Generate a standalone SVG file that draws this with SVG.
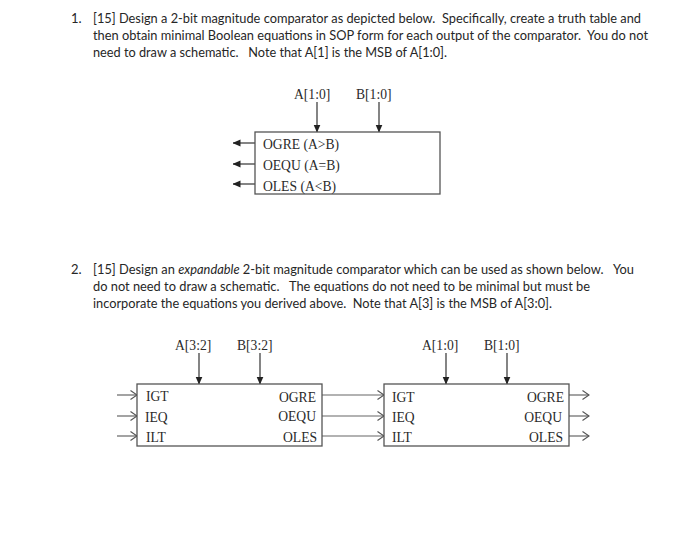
<svg xmlns="http://www.w3.org/2000/svg" width="700" height="545" viewBox="0 0 700 545">
<style>
.q{font-family:Lato,"Open Sans","Liberation Sans",sans-serif;font-size:13px;fill:#262626}
.t{font-family:"Liberation Serif","Times New Roman",serif;font-size:13.6px;fill:#2a2a2a}
.e{text-anchor:end}
.box{fill:#fff;stroke:#555;stroke-width:1.3}
.w{fill:none;stroke:#333;stroke-width:1.2}
.g{fill:none;stroke:#666;stroke-width:1.2}
</style>
<defs>
<marker id="solid" viewBox="0 0 8 8" refX="7.5" refY="4" markerWidth="8" markerHeight="8" markerUnits="userSpaceOnUse" orient="auto"><path d="M0 0.5L8 4L0 7.5z" fill="#222"/></marker>
<marker id="open" viewBox="0 0 8 10" refX="7.5" refY="5" markerWidth="8" markerHeight="10" markerUnits="userSpaceOnUse" orient="auto"><path d="M1 0.5L7.5 5L1 9.5" fill="none" stroke="#555" stroke-width="1.1"/></marker>
</defs>
<g id="question-1">
<text class="q" x="71" y="23">1.</text>
<text class="q" x="93" y="23" textLength="548" lengthAdjust="spacingAndGlyphs" xml:space="preserve">[15] Design a 2-bit magnitude comparator as depicted below.  Specifically, create a truth table and</text>
<text class="q" x="93" y="40" textLength="555" lengthAdjust="spacingAndGlyphs" xml:space="preserve">then obtain minimal Boolean equations in SOP form for each output of the comparator.  You do not</text>
<text class="q" x="93" y="57" textLength="354" lengthAdjust="spacingAndGlyphs" xml:space="preserve">need to draw a schematic.   Note that A[1] is the MSB of A[1:0].</text>
</g>
<g id="question-2">
<text class="q" x="71" y="274">2.</text>
<text class="q" x="93" y="274" textLength="541" lengthAdjust="spacingAndGlyphs" xml:space="preserve">[15] Design an <tspan font-style="italic">expandable</tspan> 2-bit magnitude comparator which can be used as shown below.   You</text>
<text class="q" x="93" y="291" textLength="497" lengthAdjust="spacingAndGlyphs" xml:space="preserve">do not need to draw a schematic.   The equations do not need to be minimal but must be</text>
<text class="q" x="93" y="308" textLength="459" lengthAdjust="spacingAndGlyphs" xml:space="preserve">incorporate the equations you derived above.  Note that A[3] is the MSB of A[3:0].</text>
</g>
<g id="connectors">
<path class="w" marker-end="url(#solid)" d="M317 102V132"/>
<path class="w" marker-end="url(#solid)" d="M379 102V132"/>
<path class="w" marker-end="url(#solid)" d="M255 143H233"/>
<path class="w" marker-end="url(#solid)" d="M255 164H233"/>
<path class="w" marker-end="url(#solid)" d="M255 184H233"/>
<path class="w" marker-end="url(#solid)" d="M199 353V384"/>
<path class="w" marker-end="url(#solid)" d="M260 353V384"/>
<path class="w" marker-end="url(#solid)" d="M446 353V384"/>
<path class="w" marker-end="url(#solid)" d="M507 353V384"/>
<path class="g" marker-end="url(#open)" d="M117 395H137"/>
<path class="g" marker-end="url(#open)" d="M117 416H137"/>
<path class="g" marker-end="url(#open)" d="M117 436H137"/>
<path class="g" marker-end="url(#open)" d="M322 395H384"/>
<path class="g" marker-end="url(#open)" d="M322 416H384"/>
<path class="g" marker-end="url(#open)" d="M322 436H384"/>
<path class="g" marker-end="url(#open)" d="M569 395H589"/>
<path class="g" marker-end="url(#open)" d="M569 416H589"/>
<path class="g" marker-end="url(#open)" d="M569 436H589"/>
</g>
<g id="comparator-top">
<rect class="box" x="255" y="132" width="185" height="62"/>
<text class="t" x="294" y="99">A[1:0]</text>
<text class="t" x="356" y="99">B[1:0]</text>
<text class="t" x="263" y="149">OGRE (A&gt;B)</text>
<text class="t" x="263" y="170">OEQU (A=B)</text>
<text class="t" x="263" y="191">OLES (A&lt;B)</text>
</g>
<g id="comparator-left">
<rect class="box" x="137" y="384" width="185" height="62"/>
<text class="t" x="175" y="350">A[3:2]</text>
<text class="t" x="237" y="350">B[3:2]</text>
<text class="t" x="146" y="401">IGT</text>
<text class="t" x="145" y="422">IEQ</text>
<text class="t" x="146" y="442">ILT</text>
<text class="t e" x="316" y="402">OGRE</text>
<text class="t e" x="316" y="421">OEQU</text>
<text class="t e" x="317" y="442">OLES</text>
</g>
<g id="comparator-right">
<rect class="box" x="384" y="384" width="185" height="62"/>
<text class="t" x="422" y="350">A[1:0]</text>
<text class="t" x="484" y="350">B[1:0]</text>
<text class="t" x="392" y="402">IGT</text>
<text class="t" x="392" y="422">IEQ</text>
<text class="t" x="392" y="442">ILT</text>
<text class="t e" x="564" y="402">OGRE</text>
<text class="t e" x="562" y="422">OEQU</text>
<text class="t e" x="563" y="442">OLES</text>
</g>
</svg>
